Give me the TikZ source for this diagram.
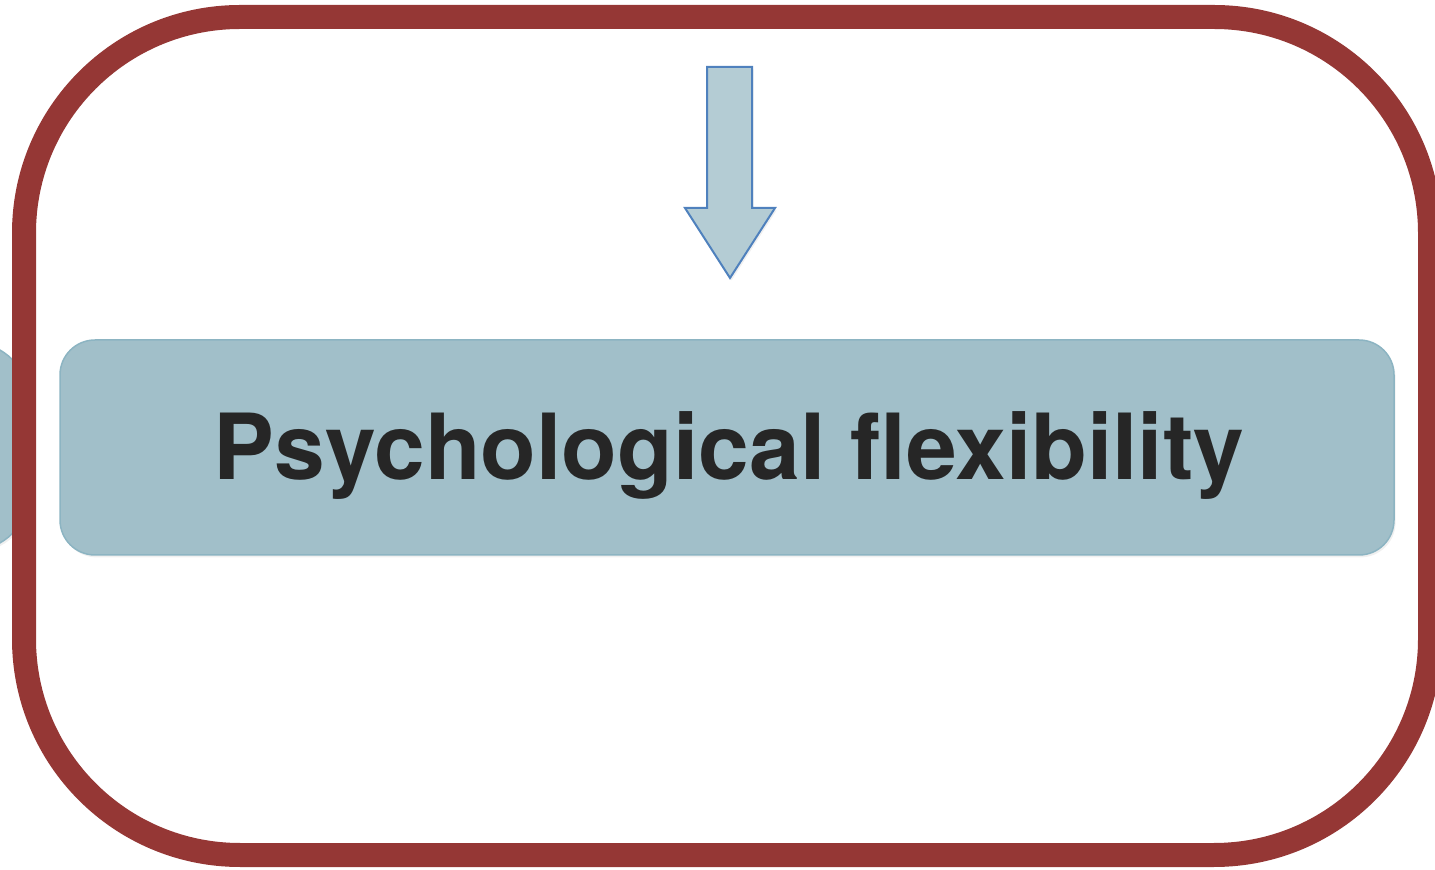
\documentclass[tikz,border=0pt]{standalone}
\usepackage{xcolor}
\usepackage{tikz}
\usepackage{fontspec}
\setmainfont{TeX Gyre Heros}
\usetikzlibrary{shadows}
\usetikzlibrary{positioning}

\definecolor{framered}{RGB}{149,55,53}
\definecolor{boxfill}{RGB}{161,191,201}
\definecolor{boxline}{RGB}{140,180,194}
\definecolor{arrowfill}{RGB}{180,204,212}
\definecolor{arrowline}{RGB}{79,129,189}
\definecolor{textgray}{RGB}{38,38,38}

\tikzset{
  softshadow/.style={drop shadow={opacity=0.12,shadow xshift=0.8pt,shadow yshift=-1.2pt}},
  blockarrow/.style={draw=arrowline,fill=arrowfill,line width=1pt,line join=miter,softshadow}
}

\begin{document}
\begin{tikzpicture}[x=0.5pt,y=-0.5pt]
          \useasboundingbox (0,0) rectangle (1435,870);
          \clip (0,0) rectangle (1435,870);
          \begin{scope}[every node/.style={draw=boxline,fill=boxfill,line width=0.75pt,inner sep=0pt,softshadow}]
            \node[rounded corners=27.5pt,minimum width=69pt,minimum height=103.5pt] (prev) at (-41,446.5) {};
            \node[rounded corners=17.5pt,minimum width=667pt,minimum height=107.5pt] (flex) at (727,447.5) {};
          \end{scope}
          \node[anchor=base,inner sep=0pt,text=textgray,font=\fontsize{45.6}{54}\selectfont\bfseries] (flexlabel) at (729,480) {Psychological flexibility};
          \path[blockarrow] (707,67) -- (752,67) -- (752,208) -- (775,208) -- (730,278) -- (685,208) -- (707,208) -- cycle;
          \node[draw=framered,line width=12pt,rounded corners=108pt,inner sep=0pt,
            minimum width=703pt,minimum height=419pt] (frame) at (727,436) {};
        \end{tikzpicture}
\end{document}
